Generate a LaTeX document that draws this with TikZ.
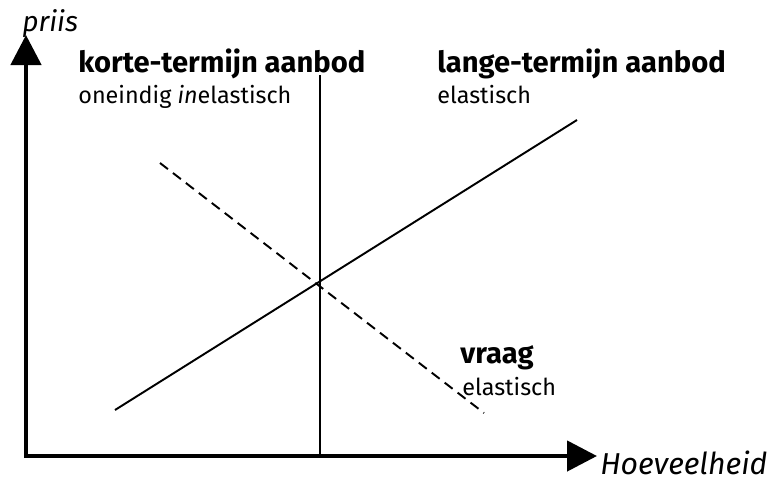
\documentclass[tikz,border=0pt]{standalone}
\usepackage{fontspec}
\setmainfont{Fira Sans}
\usetikzlibrary{arrows.meta}
\begin{document}
\begin{tikzpicture}[
  axis/.style={line width=2.6pt, line join=miter, {Triangle[length=0.6cm,width=0.6cm]}-{Triangle[length=0.6cm,width=0.6cm]}},
  curve/.style={line width=1.1pt},
  title/.style={anchor=base west, inner sep=0pt, font=\fontsize{16.6}{19}\selectfont\bfseries},
  sub/.style={anchor=base west, inner sep=0pt, font=\fontsize{13.3}{15}\selectfont},
  axlabel/.style={anchor=base west, inner sep=0pt, font=\fontsize{16}{18}\selectfont\itshape}
]
\useasboundingbox (0,0) rectangle (15.48,9.66);

\coordinate (ytip) at (0.52,8.96);
\coordinate (xtip) at (11.94,0.54);
\draw[axis] (ytip) |- (xtip);
\node[axlabel] (priis) at (0.44,9.04) {priis};
\node[axlabel, font=\fontsize{17.2}{20}\selectfont\itshape] (hoev) at (12.0,0.18) {Hoeveelheid};

% korte termijn
\coordinate (kt top) at (6.40,8.16);
\coordinate (kt bot) at (6.40,0.54);
\draw[curve] (kt top) -- (kt bot);

% lange termijn
\coordinate (lt a) at (2.30,1.46);
\coordinate (lt b) at (11.54,7.26);
\draw[curve] (lt a) -- (lt b);

% vraag
\coordinate (vr a) at (3.20,6.40);
\coordinate (vr b) at (9.68,1.40);
\draw[curve, dash pattern=on 5.7pt off 3.6pt] (vr a) -- (vr b);

\node[title] (kt) at (1.56,8.22) {korte-termijn aanbod};
\node[sub] (kt sub) at (1.56,7.60) {oneindig \textit{in}elastisch};
\node[title] (lt) at (8.74,8.22) {lange-termijn aanbod};
\node[sub] (lt sub) at (8.74,7.60) {elastisch};
\node[title] (vr) at (9.20,2.40) {vraag};
\node[sub] (vr sub) at (9.24,1.76) {elastisch};
\end{tikzpicture}
\end{document}
